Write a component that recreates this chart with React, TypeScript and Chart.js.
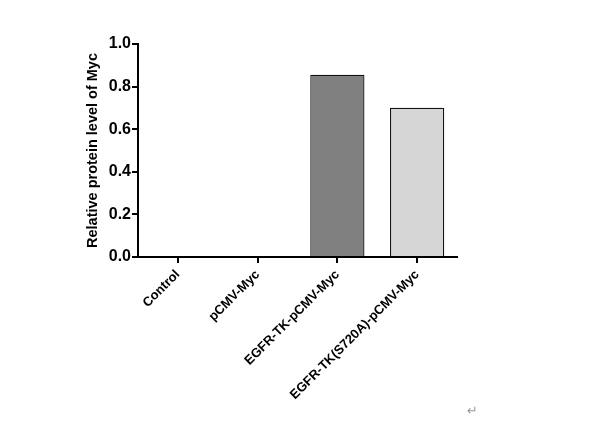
import React, { useEffect, useRef } from "react";
import { Chart, registerables } from "chart.js";

Chart.register(...registerables);

const categories = ["Control", "pCMV-Myc", "EGFR-TK-pCMV-Myc", "EGFR-TK(S720A)-pCMV-Myc"];
const values = [0, 0, 0.856, 0.701];
const barColors = ["#808080", "#808080", "#808080", "#d6d6d6"];
const yTitle = "Relative protein level of Myc";

export default function App() {
  const ref = useRef<HTMLCanvasElement | null>(null);
  useEffect(() => {
    if (!ref.current) return;
    const font = "'Liberation Sans', Arial, sans-serif";
    const chart = new Chart(ref.current, {
      type: "bar",
      data: {
        labels: categories,
        datasets: [
          {
            data: values,
            backgroundColor: barColors,
            borderColor: "#111",
            borderWidth: 1.3,
            barPercentage: 0.68,
            categoryPercentage: 1,
          },
        ],
      },
      options: {
        animation: false,
        responsive: false,
        layout: { padding: { left: 84, right: 140, top: 44, bottom: 0 } },
        plugins: { legend: { display: false }, tooltip: { enabled: false } },
        scales: {
          x: {
            grid: { display: true, drawOnChartArea: false, drawTicks: true, tickLength: 6, color: "#000", lineWidth: 2, offset: false },
            border: { display: true, color: "#000", width: 2 },
            ticks: {
              color: "#000",
              font: { family: font, size: 13, weight: "bold" },
              minRotation: 45,
              maxRotation: 45,
              autoSkip: false,
              padding: 4,
            },
            afterFit: (s: any) => { s.height = 171; },
          },
          y: {
            min: 0,
            max: 1,
            grid: { display: true, drawOnChartArea: false, drawTicks: true, tickLength: 6, color: "#000", lineWidth: 2 },
            border: { display: true, color: "#000", width: 2 },
            ticks: {
              stepSize: 0.2,
              color: "#000",
              font: { family: font, size: 16, weight: "bold" },
              padding: 1,
              callback: (v: any) => Number(v).toFixed(1),
            },
            title: {
              display: true,
              text: yTitle,
              color: "#000",
              font: { family: font, size: 14.5, weight: "bold" },
              padding: { top: 0, bottom: 4 },
            },
            afterFit: (s: any) => { s.width = 54; },
          },
        },
      },
    });
    return () => chart.destroy();
  }, []);
  return (
    <div style={{ position: "absolute", left: 0, top: 0, width: 597, height: 428, background: "#fff" }}>
      <canvas ref={ref} width={597} height={428} style={{ display: "block" }} />
      <span style={{ position: "absolute", left: 467, top: 403, fontSize: 13, color: "#999", fontFamily: "'DejaVu Sans', sans-serif" }}>↵</span>
    </div>
  );
}
